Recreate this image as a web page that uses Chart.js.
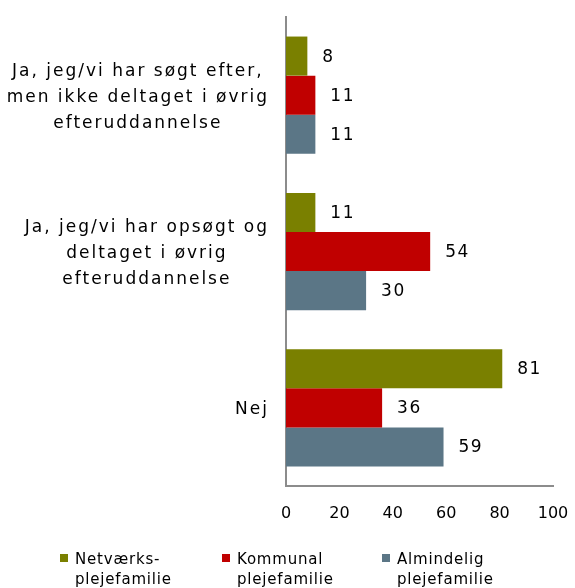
<!DOCTYPE html>
<html>
<head>
<meta charset="utf-8">
<script src="https://cdn.jsdelivr.net/npm/chart.js@4.4.1/dist/chart.umd.min.js"></script>
<style>
  html, body { margin: 0; padding: 0; background: #fff; }
  #wrap { position: relative; width: 575px; height: 588px; }
  #legend { position: absolute; left: 0; top: 549px; width: 575px; font: 15px "DejaVu Sans", Verdana, sans-serif; color: #000; letter-spacing: 0.8px; }
  .item { position: absolute; top: 0; line-height: 20px; padding-left: 15px; }
  .item span { position: absolute; left: 0; top: 5px; width: 8px; height: 8px; }
</style>
</head>
<body>
<div id="wrap">
  <canvas id="chart" width="575" height="588"></canvas>
  <div id="legend"></div>
</div>
<script>
const categories = [
  ['Ja, jeg/vi har søgt efter,', 'men ikke deltaget i øvrig', 'efteruddannelse'],
  ['Ja, jeg/vi har opsøgt og', 'deltaget i øvrig', 'efteruddannelse'],
  ['Nej']
];
const seriesNames = [['Netværks-', 'plejefamilie'], ['Kommunal', 'plejefamilie'], ['Almindelig', 'plejefamilie']];
const netvaerk = [8, 11, 81];
const kommunal = [11, 54, 36];
const almindelig = [11, 30, 59];
const xTicks = [0, 20, 40, 60, 80, 100];

const colors = ['#7a8000', '#c00000', '#5b7686'];
const font = '"DejaVu Sans", Verdana, sans-serif';

// labels for categories (centered lines, block right-aligned) and values
const labelPlugin = {
  id: 'labels',
  afterDatasetsDraw(chart) {
    const ctx = chart.ctx;
    const yScale = chart.scales.y;
    ctx.save();
    ctx.fillStyle = '#000';
    ctx.font = '17px ' + font;
    ctx.letterSpacing = '2px';
    ctx.textBaseline = 'middle';
    ctx.textAlign = 'center';
    const lh = 26;
    categories.forEach((lines, i) => {
      const yc = yScale.getPixelForTick(i) + 2;
      const maxW = Math.max(...lines.map(l => ctx.measureText(l).width));
      const cx = chart.chartArea.left - 17 - maxW / 2;
      const y0 = yc - (lines.length - 1) * lh / 2;
      lines.forEach((l, j) => ctx.fillText(l, cx, y0 + j * lh));
    });
    ctx.textAlign = 'left';
    ctx.letterSpacing = '1.5px';
    chart.data.datasets.forEach((ds, di) => {
      chart.getDatasetMeta(di).data.forEach((bar, i) => {
        ctx.fillText(String(ds.data[i]), bar.x + 15, bar.y + 1);
      });
    });
    ctx.restore();
  }
};

new Chart(document.getElementById('chart').getContext('2d'), {
  type: 'bar',
  data: {
    labels: categories.map(c => c.join(' ')),
    datasets: [
      { label: seriesNames[0].join(' '), data: netvaerk, backgroundColor: colors[0] },
      { label: seriesNames[1].join(' '), data: kommunal, backgroundColor: colors[1] },
      { label: seriesNames[2].join(' '), data: almindelig, backgroundColor: colors[2] }
    ]
  },
  options: {
    indexAxis: 'y',
    responsive: false,
    animation: false,
    categoryPercentage: 0.75,
    barPercentage: 1,
    layout: { padding: { top: 17, right: 22, left: 0, bottom: 0 } },
    plugins: { legend: { display: false }, tooltip: { enabled: false } },
    scales: {
      y: {
        grid: { display: false },
        border: { color: '#8c8c8c', width: 2 },
        ticks: { display: false },
        afterFit: s => { s.width = 286; }
      },
      x: {
        min: 0,
        max: 100,
        afterBuildTicks: s => { s.ticks = xTicks.map(v => ({ value: v })); },
        grid: { display: false },
        border: { color: '#8c8c8c', width: 2 },
        ticks: { padding: 10, color: '#000', font: { family: font, size: 16 } },
        afterFit: s => { s.height = 102; s.paddingLeft = 0; s.paddingRight = 0; }
      }
    }
  },
  plugins: [labelPlugin]
});

// legend
const legend = document.getElementById('legend');
const legendX = [60, 222, 382];
seriesNames.forEach((lines, i) => {
  const d = document.createElement('div');
  d.className = 'item';
  d.style.left = legendX[i] + 'px';
  d.innerHTML = `<span style="background:${colors[i]}"></span>${lines.join('<br>')}`;
  legend.appendChild(d);
});
</script>
</body>
</html>
